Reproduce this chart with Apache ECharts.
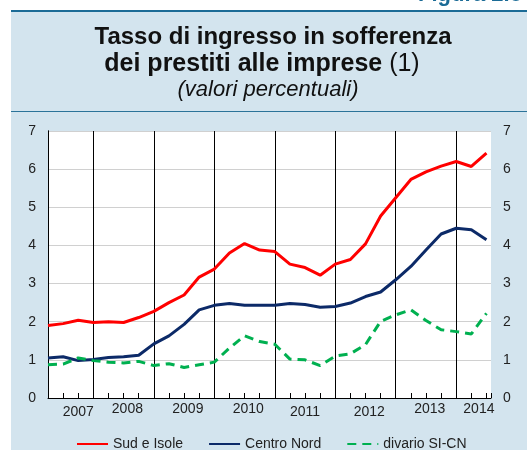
<!DOCTYPE html>
<html>
<head>
<meta charset="utf-8">
<script src="https://cdn.jsdelivr.net/npm/echarts@6/dist/echarts.min.js"></script>
<style>
html,body{margin:0;padding:0;background:#fff;}
#chart{width:527px;height:450px;}
</style>
</head>
<body>
<div id="chart"></div>
<script>
// quarterly observations (index 0 .. 29)
var sudIsole = [1.90,1.95,2.04,1.98,2.00,1.98,2.11,2.27,2.50,2.70,3.17,3.38,3.80,4.05,3.88,3.84,3.51,3.42,3.22,3.51,3.63,4.04,4.77,5.25,5.73,5.93,6.08,6.20,6.07,6.42];
var centroNord = [1.05,1.08,0.98,1.01,1.06,1.08,1.12,1.42,1.63,1.93,2.31,2.43,2.48,2.43,2.43,2.43,2.48,2.45,2.38,2.40,2.49,2.66,2.78,3.10,3.45,3.88,4.30,4.45,4.41,4.15];
var divario = [0.87,0.89,1.05,0.98,0.94,0.92,0.96,0.85,0.90,0.80,0.87,0.94,1.31,1.63,1.48,1.41,1.02,1.00,0.85,1.10,1.16,1.40,2.01,2.18,2.31,2.03,1.79,1.74,1.68,2.22];
// year separators (quarter index) and year tick labels
var yearBreaks = [3,7,11,15,19,23,27];
var yearLabels = ['2007','2008','2009','2010','2011','2012','2013','2014'];
var yearLabelAt = [2,5.25,9.25,13.25,17,21.25,25.25,28.5];
var yearLabelLow = [true,false,false,false,true,true,false,false];
var seriesNames = ['Sud e Isole','Centro Nord','divario SI-CN'];

var FONT = '"Liberation Sans", Arial, Helvetica, sans-serif';
var chart = echarts.init(document.getElementById('chart'), null, {renderer:'canvas'});

function toPairs(arr){ return arr.map(function(v,i){ return [i,v]; }); }
var labelMap = {};
yearLabelAt.forEach(function(p,i){ labelMap[p] = (yearLabelLow[i] ? '{lo|' : '{hi|') + yearLabels[i] + '}'; });

var option = {
  animation:false,
  backgroundColor:'#ffffff',
  graphic:[
    {type:'rect', z:-10, shape:{x:11,y:11,width:516,height:439}, style:{fill:'#d3e4ee'}},
    {type:'rect', z:-9, shape:{x:11,y:10,width:516,height:2}, style:{fill:'#1b6b96'}},
    {type:'rect', z:-9, shape:{x:11,y:111,width:516,height:1}, style:{fill:'#2b7399'}},
    {type:'text', z:5, x:418, y:6, style:{text:'Figura 2.8', font:'bold 22px '+FONT, fill:'#1b6b96', textAlign:'left', textVerticalAlign:'bottom'}},
    {type:'text', z:5, x:273, y:37, style:{text:'Tasso di ingresso in sofferenza', font:'bold 24px '+FONT, fill:'#111', textAlign:'center', textVerticalAlign:'middle'}},
    {type:'text', z:5, x:262, y:64, style:{text:'{b|dei prestiti alle imprese}{r| (1)}', textAlign:'center', textVerticalAlign:'middle',
      rich:{b:{font:'bold 25px '+FONT, fill:'#111'}, r:{font:'25px '+FONT, fill:'#111'}}}},
    {type:'text', z:5, x:268, y:90, style:{text:'(valori percentuali)', font:'italic 22px '+FONT, fill:'#111', textAlign:'center', textVerticalAlign:'middle'}}
  ],
  grid:{left:48, right:36, top:131, bottom:52, show:true, backgroundColor:'#ffffff', borderWidth:0},
  legend:{
    data:seriesNames, left:71, top:432, itemWidth:31, itemHeight:14, itemGap:25,
    itemStyle:{opacity:0},
    textStyle:{fontFamily:FONT, fontSize:14, color:'#222'}
  },
  xAxis:[
    {type:'value', min:0, max:29.3, interval:1, position:'bottom',
     axisLine:{show:true, onZero:false, lineStyle:{color:'#000', width:1}},
     axisTick:{show:true, inside:true, length:5, lineStyle:{color:'#000', width:1}},
     axisLabel:{show:false}, splitLine:{show:false}},
    {type:'value', min:0, max:29.3, interval:0.25, position:'bottom',
     axisLine:{show:false}, axisTick:{show:false}, splitLine:{show:false},
     axisLabel:{show:true, margin:4, fontFamily:FONT, fontSize:14, color:'#222',
       formatter:function(v){ var k = Math.round(v*4)/4; return labelMap[k] || ''; },
       rich:{hi:{fontFamily:FONT, fontSize:14, color:'#222', padding:[0,0,0,0]},
             lo:{fontFamily:FONT, fontSize:14, color:'#222', padding:[3,0,0,0]}}}}
  ],
  yAxis:[
    {type:'value', min:0, max:7, interval:1, position:'left',
     axisLine:{show:true, lineStyle:{color:'#000', width:1}},
     axisTick:{show:false},
     axisLabel:{margin:12, fontFamily:FONT, fontSize:14, color:'#222'},
     splitLine:{show:true, lineStyle:{color:'#d0d0d0', width:1}}},
    {type:'value', min:0, max:7, interval:1, position:'right',
     axisLine:{show:true, lineStyle:{color:'#000', width:1}},
     axisTick:{show:false},
     axisLabel:{margin:12, fontFamily:FONT, fontSize:14, color:'#222'},
     splitLine:{show:false}}
  ],
  series:[
    {name:'_years', type:'line', data:[], xAxisIndex:0, yAxisIndex:0, z:1, silent:true,
     markLine:{silent:true, z:1, symbol:['none','none'], label:{show:false}, animation:false,
       lineStyle:{color:'#000', width:1, type:'solid'},
       emphasis:{disabled:true},
       data:yearBreaks.map(function(v){ return {xAxis:v}; })}},
    {name:seriesNames[0], type:'line', data:toPairs(sudIsole), symbol:'none', z:3,
     lineStyle:{color:'#ff0000', width:3}, itemStyle:{color:'#ff0000'}},
    {name:seriesNames[1], type:'line', data:toPairs(centroNord), symbol:'none', z:3,
     lineStyle:{color:'#0c2a68', width:3}, itemStyle:{color:'#0c2a68'}},
    {name:seriesNames[2], type:'line', data:toPairs(divario), symbol:'none', z:3,
     lineStyle:{color:'#00b050', width:3, type:[9,6]}, itemStyle:{color:'#00b050'}}
  ]
};
chart.setOption(option);
</script>
</body>
</html>
